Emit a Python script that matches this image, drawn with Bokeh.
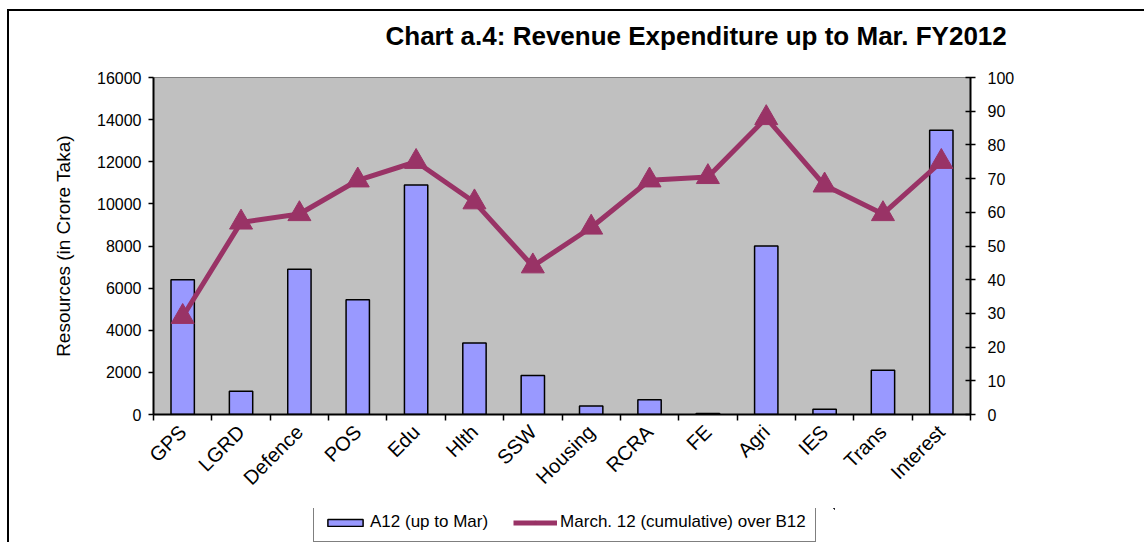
from bokeh.plotting import figure
from bokeh.layouts import column
from bokeh.models import (Range1d, LinearAxis, FixedTicker, Legend, LegendItem,
                          Title, ColumnDataSource)
from bokeh.embed import file_html
from bokeh.resources import INLINE
from math import pi

categories = ["GPS", "LGRD", "Defence", "POS", "Edu", "Hlth", "SSW", "Housing",
              "RCRA", "FE", "Agri", "IES", "Trans", "Interest"]
a12_up_to_mar = [6400, 1100, 6900, 5450, 10900, 3400, 1850, 400,
                 700, 50, 8000, 250, 2100, 13500]
march12_over_b12 = [29, 57, 59.5, 69.5, 75, 63, 44, 55.5,
                    69.5, 70.5, 88, 68, 59.5, 75]
left_ticks = list(range(0, 16001, 2000))
right_ticks = list(range(0, 101, 10))

FONT = "Liberation Sans"
BAR_FILL = "#9999FF"
LINE_COL = "#993366"

centers = [i + 0.5 for i in range(len(categories))]
bounds = list(range(len(categories) + 1))
src = ColumnDataSource(dict(x=centers, bars=a12_up_to_mar, pct=march12_over_b12))

p = figure(width=1137, height=555, output_backend="svg", toolbar_location=None,
           x_range=Range1d(0, len(categories)), y_range=Range1d(0, 16000),
           min_border_left=146, min_border_right=174, min_border_top=90,
           min_border_bottom=128, background_fill_color="#C0C0C0",
           border_fill_color="white", border_fill_alpha=0,
           outline_line_color="#808080", outline_line_width=1)
p.styles = {
    "margin-left": "7px", "margin-top": "-13px",
    "background-image": "linear-gradient(#000,#000), linear-gradient(#000,#000)",
    "background-repeat": "no-repeat",
    "background-position": "0 22px, 0 22px",
    "background-size": "100% 2px, 2px 100%",
}
p.extra_y_ranges = {"pct": Range1d(0, 100)}
p.grid.visible = False

# x axis
p.xaxis.ticker = FixedTicker(ticks=centers, minor_ticks=bounds)
p.xaxis.major_label_overrides = {c: n for c, n in zip(centers, categories)}
p.xaxis.major_label_orientation = pi / 4
p.xaxis.major_tick_out = 0
p.xaxis.major_tick_in = 0
p.xaxis.minor_tick_out = 6
p.xaxis.minor_tick_in = 0
p.xaxis.minor_tick_line_color = "black"
p.xaxis.minor_tick_line_width = 1.5
p.xaxis.axis_line_color = "black"
p.xaxis.axis_line_width = 2
p.xaxis.major_label_text_font = FONT
p.xaxis.major_label_text_font_size = "20px"
p.xaxis.major_label_text_color = "black"
p.xaxis.major_label_standoff = 8

# left axis
p.yaxis.ticker = FixedTicker(ticks=left_ticks)
p.yaxis.axis_label = "Resources (in Crore Taka)"
p.yaxis.axis_label_text_font = FONT
p.yaxis.axis_label_text_font_size = "19px"
p.yaxis.axis_label_text_font_style = "normal"
p.yaxis.axis_label_text_color = "black"
p.yaxis.axis_label_standoff = 20
p.yaxis.major_label_text_font = FONT
p.yaxis.major_label_text_font_size = "16px"
p.yaxis.major_label_text_color = "black"
p.yaxis.major_label_standoff = 7
p.yaxis.major_tick_out = 5
p.yaxis.major_tick_in = 0
p.yaxis.major_tick_line_width = 1.5
p.yaxis.minor_tick_line_color = None
p.yaxis.axis_line_width = 2
p.yaxis.axis_line_color = "black"

# right axis
ra = LinearAxis(y_range_name="pct", ticker=FixedTicker(ticks=right_ticks))
ra.major_label_text_font = FONT
ra.major_label_text_font_size = "16px"
ra.major_label_text_color = "black"
ra.major_label_standoff = 12
ra.major_tick_out = 5
ra.major_tick_in = 5
ra.major_tick_line_width = 1.5
ra.minor_tick_line_color = None
ra.axis_line_width = 2
ra.axis_line_color = "black"
p.add_layout(ra, "right")

# title
t = Title(text="Chart a.4:  Revenue Expenditure up to Mar. FY2012", align="left",
          offset=232, text_font=FONT, text_font_size="26px",
          text_font_style="bold", text_color="black", standoff=54)
p.add_layout(t, "above")

p.vbar(x="x", top="bars", width=0.4, source=src, fill_color=BAR_FILL,
       line_color="black", line_width=1.5)
p.line(x="x", y="pct", source=src, y_range_name="pct",
       line_color=LINE_COL, line_width=5)
p.scatter(x="x", y="pct", source=src, y_range_name="pct", marker="triangle",
          size=23, fill_color=LINE_COL, line_color=LINE_COL)

# legend strip: a small canvas laid over the bottom of the chart; its series
# use the same data, but its view range lies away from it, so only the legend shows
lg = figure(width=146 + 541 + 174, height=34, output_backend="svg",
            toolbar_location=None, x_axis_location=None, y_axis_location=None,
            x_range=Range1d(-3, -2), y_range=Range1d(-3, -2),
            min_border_left=0, min_border_right=0, min_border_top=0,
            min_border_bottom=0, outline_line_color=None,
            background_fill_alpha=0, border_fill_alpha=0)
lg.grid.visible = False
lg.styles = {"margin-left": "147px", "margin-top": "-34px"}
lb = lg.vbar(x="x", top="bars", width=0.4, source=src, fill_color=BAR_FILL,
             line_color="black", line_width=1.5)
ll = lg.line(x="x", y="pct", source=src, line_color=LINE_COL, line_width=5)
lm = lg.scatter(x="x", y="pct", source=src, marker="triangle", size=23,
                fill_color=LINE_COL, line_color=LINE_COL)

legend = Legend(items=[LegendItem(label="A12 (up to Mar)", renderers=[lb]),
                       LegendItem(label="March. 12 (cumulative) over B12", renderers=[ll, lm])],
                orientation="horizontal", location=(20, 0),
                label_text_font=FONT, label_text_font_size="17px",
                label_text_color="black", glyph_width=44, glyph_height=9,
                label_height=16, label_standoff=3, spacing=25, padding=9,
                margin=0, border_line_color="black", border_line_width=1.5,
                background_fill_color="white", background_fill_alpha=1)
lg.add_layout(legend, "center")

layout = column(p, lg, spacing=0)
open("out.html", "w").write(file_html(layout, INLINE))
